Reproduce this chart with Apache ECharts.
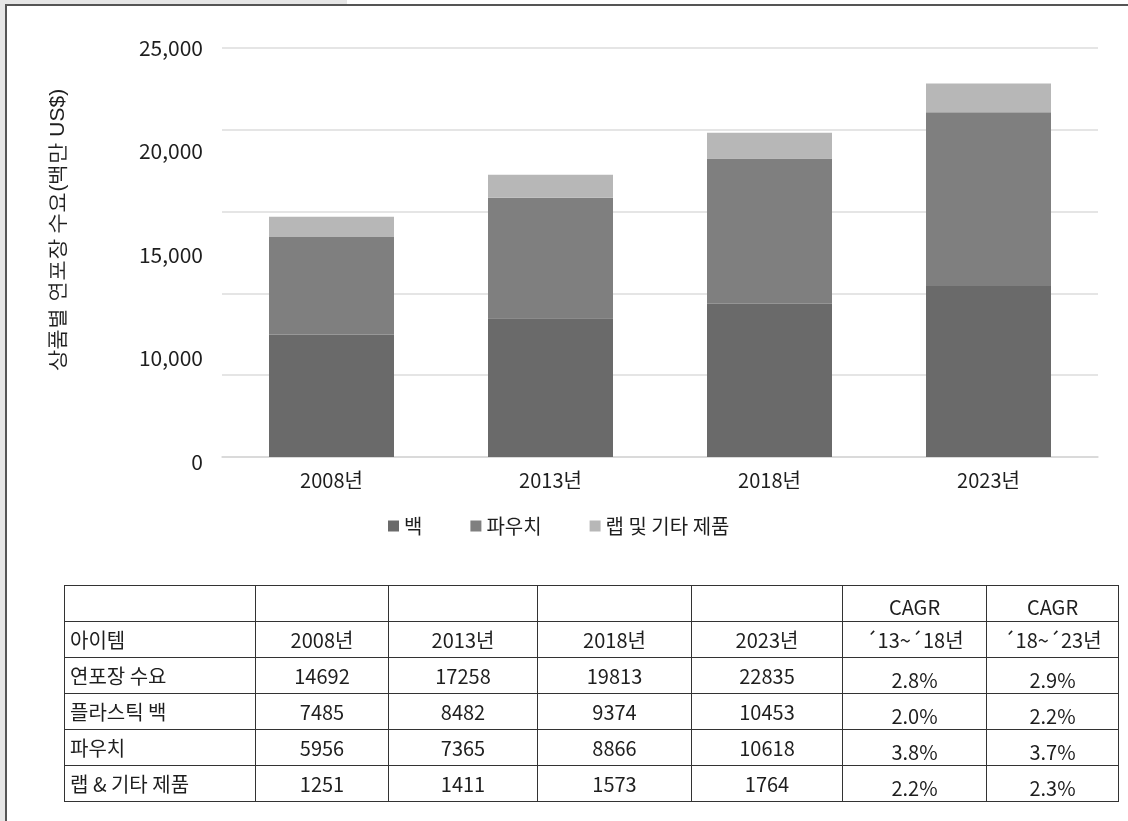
<!DOCTYPE html>
<html>
<head>
<meta charset="utf-8">
<script src="https://cdn.jsdelivr.net/npm/echarts@6/dist/echarts.min.js"></script>
<style>
  html, body { margin: 0; padding: 0; background: #fff; }
  body { width: 1128px; height: 821px; position: relative; overflow: hidden; font-family: "Noto Sans CJK KR", sans-serif; }
  #stripTop { position: absolute; left: 0; top: 0; width: 347px; height: 4px; background: #e6e6e6; }
  #stripLeft { position: absolute; left: 0; top: 0; width: 5px; height: 821px; background: #e6e6e6; }
  #frame { position: absolute; left: 5px; top: 4px; width: 1130px; height: 830px; border-left: 2px solid #555; border-top: 2px solid #555; }
  #chart { position: absolute; left: 0; top: 0; width: 1128px; height: 821px; }
  #tbl { position: absolute; left: 64px; top: 585px; border-collapse: collapse; font-size: 20px; color: #1e1e1e; table-layout: fixed; }
  #tbl tr { height: 36px; }
  #tbl td { border: 1.5px solid #333; height: 36px; box-sizing: border-box; padding: 0; text-align: center; vertical-align: middle; line-height: 1; white-space: nowrap; overflow: hidden; }
  #tbl td.first { text-align: left; padding-left: 5px; }
  #tbl td.pct { padding-top: 8px; }
  #tbl td.cagrTop { padding-top: 6px; }
</style>
</head>
<body>
<div id="stripTop"></div>
<div id="stripLeft"></div>
<div id="frame"></div>
<div id="chart"></div>
<table id="tbl"></table>
<script>
// ---- chart data ----
const years = ['2008년', '2013년', '2018년', '2023년'];
const seriesNames = ['백', '파우치', '랩 및 기타 제품'];
const bag = [7485, 8482, 9374, 10453];
const pouch = [5956, 7365, 8866, 10618];
const wrap = [1251, 1411, 1573, 1764];
const yTickLabels = ['0', '10,000', '15,000', '20,000', '25,000'];
const yAxisName = '상품별 연포장 수요(백만 US$)';

// ---- table data ----
const tableHeadTop = ['', '', '', '', '', 'CAGR', 'CAGR'];
const tableHead = ['아이템', '2008년', '2013년', '2018년', '2023년', '´13~´18년', '´18~´23년'];
const tableItems = ['연포장 수요', '플라스틱 백', '파우치', '랩 & 기타 제품'];
const totals = [14692, 17258, 19813, 22835];
const cagr1318 = ['2.8%', '2.0%', '3.8%', '2.2%'];
const cagr1823 = ['2.9%', '2.2%', '3.7%', '2.3%'];

const colors = ['#6a6a6a', '#7f7f7f', '#b7b7b7'];
const font = '"Noto Sans CJK KR", sans-serif';

const chart = echarts.init(document.getElementById('chart'), null, { renderer: 'canvas' });
const seriesData = [bag, pouch, wrap];

chart.setOption({
  animation: false,
  textStyle: { fontFamily: font },
  grid: [
    { left: 222, right: 30, top: 48, bottom: 364 },
    { left: 222, right: 30, top: 48, bottom: 359 }
  ],
  xAxis: [
    {
      type: 'category', data: years, gridIndex: 0,
      axisLine: { lineStyle: { color: '#d6d6d6', width: 1.5 } },
      axisTick: { show: false },
      axisLabel: { fontSize: 20, color: '#1e1e1e', margin: 13, fontFamily: font }
    },
    { type: 'category', gridIndex: 1, data: years, show: false }
  ],
  yAxis: [
    {
      type: 'value', gridIndex: 0, min: 0, max: 25000, interval: 5000,
      axisLabel: { show: false }, axisLine: { show: false }, axisTick: { show: false },
      splitLine: { lineStyle: { color: '#dcdcdc', width: 1.5 } }
    },
    {
      type: 'category', gridIndex: 1, data: yTickLabels, boundaryGap: false,
      axisLine: { show: false }, axisTick: { show: false }, splitLine: { show: false },
      axisLabel: { fontSize: 21, color: '#1e1e1e', margin: 19, fontFamily: font }
    }
  ],
  legend: {
    data: seriesNames,
    left: 388, top: 516, padding: 0,
    icon: 'rect', itemWidth: 11, itemHeight: 11, itemGap: 48,
    itemStyle: { borderWidth: 0 },
    textStyle: { fontSize: 20, color: '#1e1e1e', fontFamily: font }
  },
  graphic: [
    {
      type: 'text', x: 58, y: 230, rotation: Math.PI / 2,
      style: { text: yAxisName, fontSize: 21, fill: '#1e1e1e', font: '21px ' + font, align: 'center', verticalAlign: 'middle' }
    }
  ],
  series: seriesNames.map((name, i) => ({
    name: name, type: 'bar', stack: 'total', xAxisIndex: 0, yAxisIndex: 0,
    barWidth: 125, data: seriesData[i],
    itemStyle: { color: colors[i] }
  }))
});

// ---- table ----
const colWidths = [191, 133, 149, 154, 151, 144, 132];
const tbl = document.getElementById('tbl');
const cg = document.createElement('colgroup');
colWidths.forEach(w => { const c = document.createElement('col'); c.style.width = w + 'px'; cg.appendChild(c); });
tbl.appendChild(cg);
function addRow(cells, classes) {
  const tr = document.createElement('tr');
  cells.forEach((t, i) => {
    const td = document.createElement('td');
    td.textContent = t;
    if (classes[i]) td.className = classes[i];
    tr.appendChild(td);
  });
  tbl.appendChild(tr);
}
addRow(tableHeadTop, ['first', '', '', '', '', 'cagrTop', 'cagrTop']);
addRow(tableHead, ['first', '', '', '', '', '', '']);
const rowValues = [totals, bag, pouch, wrap];
tableItems.forEach((item, r) => {
  addRow([item].concat(rowValues[r].map(String), [cagr1318[r], cagr1823[r]]),
    ['first', '', '', '', '', 'pct', 'pct']);
});
</script>
</body>
</html>
